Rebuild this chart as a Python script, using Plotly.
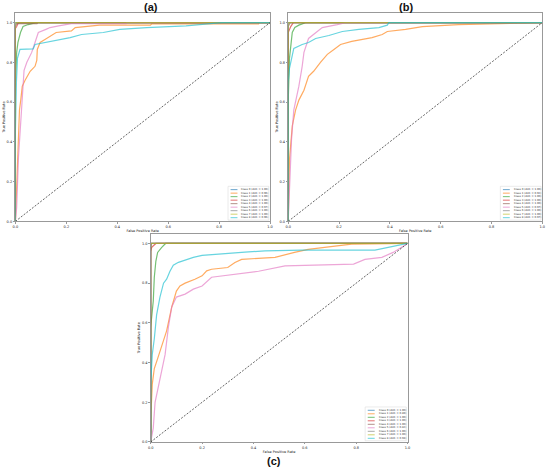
import plotly.graph_objects as go

# ROC curves: (a), (b), (c)
classes = ["Class 0", "Class 1", "Class 2", "Class 3", "Class 4",
           "Class 5", "Class 6", "Class 7", "Class 8"]
colors = ["#1f77b4", "#ff7f0e", "#2ca02c", "#d62728", "#8c564b",
          "#e377c2", "#7f7f7f", "#bcbd22", "#17becf"]

perfect_fpr = [0, 0, 1]
perfect_tpr = [0, 1, 1]

# panel (a)
auc_a = [1.00, 0.96, 1.00, 1.00, 1.00, 0.97, 1.00, 1.00, 0.96]
fpr_a = [
    perfect_fpr,
    [0, 0.003, 0.005, 0.012, 0.016, 0.021, 0.027, 0.038, 0.058, 0.077, 0.084, 0.086,
     0.097, 0.116, 0.136, 0.16, 0.22, 0.235, 0.33, 0.53, 0.535, 0.955, 0.956, 1.0],
    [0, 0, 0.005, 0.01, 0.02, 0.03, 0.05, 0.08, 1],
    [0, 0, 0.005, 0.012, 1],
    [0, 0, 0.005, 0.085, 0.088, 1],
    [0, 0.005, 0.012, 0.018, 0.027, 0.034, 0.045, 0.064, 0.077, 0.09, 0.12, 0.136,
     0.17, 0.22, 0.435, 0.437, 1],
    perfect_fpr,
    perfect_fpr,
    [0, 0, 0.004, 0.008, 0.018, 0.07, 0.077, 0.116, 0.175, 0.215, 0.26, 0.345, 0.41,
     0.516, 0.67, 0.81, 1],
]
tpr_a = [
    perfect_tpr,
    [0, 0.1, 0.17, 0.44, 0.56, 0.61, 0.68, 0.71, 0.755, 0.78, 0.81, 0.865,
     0.9, 0.915, 0.93, 0.95, 0.958, 0.975, 0.987, 0.987, 0.993, 0.993, 1.0, 1.0],
    [0, 0.7, 0.85, 0.9, 0.95, 0.98, 0.99, 1.0, 1.0],
    [0, 0.97, 0.98, 1.0, 1.0],
    [0, 0.98, 0.995, 0.995, 1, 1],
    [0, 0.07, 0.32, 0.44, 0.61, 0.76, 0.8, 0.85, 0.9, 0.95, 0.966, 0.975,
     0.983, 0.995, 0.995, 1, 1],
    perfect_tpr,
    perfect_tpr,
    [0, 0.45, 0.70, 0.82, 0.865, 0.868, 0.89, 0.9, 0.915, 0.924, 0.94, 0.95, 0.966,
     0.975, 0.983, 1.0, 1.0],
]

# panel (b)
auc_b = [1.00, 0.92, 1.00, 1.00, 1.00, 0.97, 1.00, 1.00, 0.97]
fpr_b = [
    perfect_fpr,
    [0, 0.002, 0.005, 0.016, 0.029, 0.042, 0.062, 0.08, 0.1, 0.127, 0.154, 0.18,
     0.206, 0.25, 0.33, 0.37, 0.39, 0.462, 0.528, 0.67, 0.8, 0.934, 1],
    [0, 0, 0.005, 0.01, 0.016, 0.026, 0.042, 0.068, 1],
    [0, 0, 0.01, 0.02, 1],
    [0, 0, 0.008, 1],
    [0, 0.005, 0.013, 0.022, 0.042, 0.055, 0.062, 0.08, 0.108, 0.134, 0.193, 0.226, 1],
    perfect_fpr,
    perfect_fpr,
    [0, 0, 0.005, 0.013, 0.022, 0.055, 0.08, 0.108, 0.16, 0.213, 0.278, 0.357,
     0.39, 0.396, 1],
]
tpr_b = [
    perfect_tpr,
    [0, 0.2, 0.31, 0.48, 0.56, 0.61, 0.66, 0.73, 0.755, 0.8, 0.84, 0.865,
     0.89, 0.905, 0.924, 0.94, 0.955, 0.966, 0.98, 0.99, 0.995, 0.997, 1],
    [0, 0.6, 0.82, 0.9, 0.95, 0.975, 0.987, 1, 1],
    [0, 0.95, 0.98, 1, 1],
    [0, 0.98, 1, 1],
    [0, 0.17, 0.41, 0.56, 0.68, 0.78, 0.85, 0.92, 0.95, 0.975, 0.99, 1, 1],
    perfect_tpr,
    perfect_tpr,
    [0, 0.7, 0.77, 0.81, 0.87, 0.89, 0.9, 0.92, 0.935, 0.955, 0.966, 0.975,
     0.987, 1, 1],
]

# panel (c)
auc_c = [1.00, 0.89, 1.00, 1.00, 1.00, 0.82, 1.00, 1.00, 0.94]
fpr_c = [
    perfect_fpr,
    [0, 0.001, 0.006, 0.014, 0.027, 0.043, 0.062, 0.082, 0.1, 0.114, 0.134, 0.172,
     0.2, 0.218, 0.237, 0.3, 0.328, 0.354, 0.484, 0.56, 0.613, 0.782, 1],
    [0, 0, 0.01, 0.014, 0.02, 0.027, 0.043, 0.058, 1],
    [0, 0, 0.004, 0.02, 1],
    [0, 0, 0.003, 1],
    [0, 0.01, 0.017, 0.036, 0.056, 0.069, 0.082, 0.1, 0.134, 0.166, 0.2, 0.237,
     0.328, 0.42, 0.523, 0.79, 0.834, 0.9, 0.944, 0.977, 1],
    perfect_fpr,
    perfect_fpr,
    [0, 0, 0.006, 0.014, 0.023, 0.036, 0.05, 0.062, 0.075, 0.088, 0.108, 0.134,
     0.166, 0.2, 0.276, 0.367, 0.445, 0.588, 0.873, 0.925, 0.964, 1],
]
tpr_c = [
    perfect_tpr,
    [0, 0.14, 0.29, 0.37, 0.42, 0.49, 0.56, 0.68, 0.76, 0.786, 0.8, 0.82,
     0.837, 0.862, 0.87, 0.879, 0.904, 0.92, 0.93, 0.955, 0.97, 0.997, 1],
    [0, 0.58, 0.71, 0.83, 0.91, 0.955, 0.98, 1, 1],
    [0, 0.96, 0.98, 1, 1],
    [0, 0.97, 1, 1],
    [0, 0.07, 0.2, 0.32, 0.44, 0.58, 0.68, 0.73, 0.745, 0.77, 0.786, 0.83,
     0.845, 0.86, 0.887, 0.896, 0.92, 0.93, 0.955, 0.98, 1],
    perfect_tpr,
    perfect_tpr,
    [0, 0.29, 0.44, 0.52, 0.64, 0.73, 0.8, 0.82, 0.86, 0.89, 0.905, 0.917,
     0.93, 0.94, 0.949, 0.956, 0.963, 0.966, 0.966, 0.98, 0.988, 1],
]

panels = [
    ("x", "y", fpr_a, tpr_a, auc_a),
    ("x2", "y2", fpr_b, tpr_b, auc_b),
    ("x3", "y3", fpr_c, tpr_c, auc_c),
]

fig = go.Figure()
shapes = []
annotations = []

for xa, ya, fprs, tprs, aucs in panels:
    for i, name in enumerate(classes):
        fig.add_trace(go.Scatter(
            x=fprs[i], y=tprs[i], mode="lines",
            line=dict(color=colors[i], width=1.2),
            opacity=0.65,
            name=f"{name} (AUC = {aucs[i]:.2f})",
            xaxis=xa, yaxis=ya, showlegend=False,
        ))
    # chance line
    fig.add_trace(go.Scatter(
        x=[0, 1], y=[0, 1], mode="lines",
        line=dict(color="#222", width=0.7, dash="2px,1.5px"),
        showlegend=False, xaxis=xa, yaxis=ya,
    ))

    # small legend box in the lower right corner of each panel
    xd, yd = f"{xa} domain", f"{ya} domain"
    shapes.append(dict(type="rect", xref=xd, yref=yd, x0=0.835, x1=0.995,
                       y0=0.006, y1=0.168, line=dict(color="#ddd", width=0.6),
                       fillcolor="rgba(255,255,255,0.8)", layer="above"))
    for i, name in enumerate(classes):
        yy = 0.152 - i * 0.0168
        shapes.append(dict(type="line", xref=xd, yref=yd, x0=0.845, x1=0.872,
                           y0=yy, y1=yy, opacity=0.65,
                           line=dict(color=colors[i], width=1), layer="above"))
        annotations.append(dict(text=f"{name} (AUC = {aucs[i]:.2f})", xref=xd, yref=yd,
                                x=0.88, y=yy, xanchor="left", yanchor="middle",
                                showarrow=False,
                                font=dict(family="DejaVu Sans", size=2.6, color="#333")))

axis_font = dict(family="DejaVu Sans", size=3.5, color="#222")
common_x = dict(range=[0, 1], tickvals=[0, 0.2, 0.4, 0.6, 0.8, 1.0], tickformat=".1f",
                showgrid=False, zeroline=False, showline=True, mirror=True,
                linecolor="#999", linewidth=1, ticks="outside", ticklen=1.5,
                tickcolor="#999", tickfont=axis_font, automargin=False,
                title=dict(text="False Positive Rate", font=axis_font, standoff=1))
common_y = dict(range=[0, 1.05], tickvals=[0, 0.2, 0.4, 0.6, 0.8, 1.0], tickformat=".1f",
                showgrid=False, zeroline=False, showline=True, mirror=True,
                linecolor="#999", linewidth=1, ticks="outside", ticklen=1.5,
                tickcolor="#999", tickfont=axis_font, automargin=False,
                title=dict(text="True Positive Rate", font=axis_font, standoff=1))

title_font = dict(family="Liberation Sans", size=11, color="#111")
annotations += [
    dict(text="<b>(a)</b>", x=0.259, y=0.985, xref="paper", yref="paper",
         yanchor="middle", showarrow=False, font=title_font),
    dict(text="<b>(b)</b>", x=0.755, y=0.985, xref="paper", yref="paper",
         yanchor="middle", showarrow=False, font=title_font),
    dict(text="<b>(c)</b>", x=0.498, y=0.0, xref="paper", yref="paper",
         yanchor="bottom", height=12, valign="middle", borderpad=0,
         showarrow=False, font=title_font),
]

fig.update_layout(
    width=550, height=468,
    margin=dict(l=0, r=0, t=0, b=0),
    paper_bgcolor="white", plot_bgcolor="white",
    showlegend=False,
    xaxis=dict(domain=[0.028, 0.491], anchor="y", **common_x),
    yaxis=dict(domain=[0.527, 0.973], anchor="x", **common_y),
    xaxis2=dict(domain=[0.524, 0.986], anchor="y2", **common_x),
    yaxis2=dict(domain=[0.527, 0.973], anchor="x2", **common_y),
    xaxis3=dict(domain=[0.274, 0.741], anchor="y3", **common_x),
    yaxis3=dict(domain=[0.0556, 0.501], anchor="x3", **common_y),
    shapes=shapes,
    annotations=annotations,
)

# drop the browser's default 8px page margin so the figure sits at the top-left corner
fig.write_html("out.html", config={"displayModeBar": False},
               post_script="document.body.style.margin='0';")
